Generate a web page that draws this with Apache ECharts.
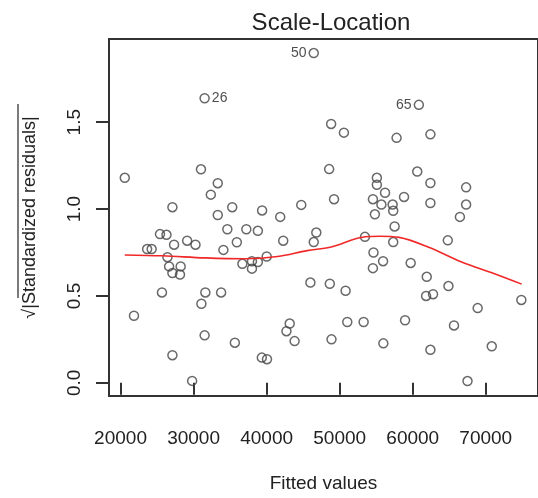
<!DOCTYPE html>
<html>
<head>
<meta charset="utf-8">
<script src="https://cdn.jsdelivr.net/npm/echarts@6/dist/echarts.min.js"></script>
<style>
  html, body { margin: 0; padding: 0; background: #ffffff; }
  #chart { width: 538px; height: 498px; }
</style>
</head>
<body>
<div id="chart"></div>
<script>
// fitted values and sqrt(|standardized residuals|)
const fitted = [
  20580, 21840, 23640, 24260, 25400, 26290, 25670, 26420, 26650, 28230,
  27100, 28140, 27330, 27100, 27100, 29120, 30260, 29800, 31010, 31070,
  31510, 31610, 32360, 33310, 33310, 33770, 34620, 34080, 35290, 35650,
  35920, 37220, 36680, 37990, 38800, 37990, 38800, 39380, 40010, 39340,
  40050, 41860, 42270, 42710, 43160, 43830, 44740, 46800, 46450, 45990,
  48830, 50580, 48560, 49230, 48650, 50810, 48880, 51040, 53280, 53460,
  54550, 55090, 55090, 54820, 54630, 54550, 55940, 55710, 56210, 55980,
  57250, 57330, 57520, 57330, 57790, 58810, 59720, 58950, 60620, 62420,
  62420, 62420, 61920, 61830, 62780, 62420, 64800, 64890, 65650, 66460,
  67310, 67310, 67500, 68890, 70820, 74870
];
const sqrtResid = [
  1.18, 0.386, 0.77, 0.77, 0.856, 0.852, 0.52, 0.723, 0.67, 0.67,
  0.632, 0.623, 0.795, 1.011, 0.159, 0.818, 0.795, 0.011, 1.229, 0.455,
  0.273, 0.52, 1.083, 1.149, 0.966, 0.52, 0.884, 0.765, 1.011, 0.231,
  0.809, 0.884, 0.685, 0.70, 0.695, 0.657, 0.875, 0.992, 0.727, 0.145,
  0.136, 0.955, 0.818, 0.297, 0.341, 0.24, 1.024, 0.865, 0.81, 0.577,
  1.49, 1.44, 1.23, 1.057, 0.57, 0.53, 0.25, 0.35, 0.35, 0.84,
  1.057, 1.18, 1.14, 0.97, 0.75, 0.66, 0.70, 1.026, 1.094, 0.227,
  1.026, 0.99, 0.90, 0.81, 1.41, 1.07, 0.69, 0.36, 1.216, 1.43,
  1.15, 1.035, 0.61, 0.50, 0.51, 0.19, 0.82, 0.557, 0.33, 0.955,
  1.125, 1.026, 0.01, 0.43, 0.21, 0.477
];

// labelled observations
const idFitted = [31510, 46450, 60840];
const idResid = [1.638, 1.898, 1.60];
const idNames = ['26', '50', '65'];
const idSide = ['right', 'left', 'left'];

// smoother (red line)
const smoothX = [20580, 25750, 31610, 37000, 41500, 45550, 48690, 53470, 55440, 58140, 62190, 66690, 71190, 74920];
const smoothY = [0.736, 0.731, 0.719, 0.714, 0.727, 0.761, 0.78, 0.841, 0.844, 0.837, 0.78, 0.695, 0.628, 0.568];

const xTicks = [20000, 30000, 40000, 50000, 60000, 70000];
const yTicks = [0, 0.5, 1.0, 1.5];

const chart = echarts.init(document.getElementById('chart'));

const pointStyle = {
  color: 'rgba(0,0,0,0)',
  borderColor: '#444',
  borderWidth: 1.5
};

const option = {
  animation: false,
  textStyle: { fontFamily: 'Liberation Sans' },
  title: {
    text: 'Scale-Location',
    left: 326,
    top: 6,
    textAlign: 'center',
    textStyle: { fontSize: 24, fontWeight: 'normal', color: '#222' }
  },
  grid: {
    left: 109,
    top: 39,
    right: -6,
    bottom: 97,
    show: true,
    borderColor: '#333',
    borderWidth: 2
  },
  xAxis: {
    type: 'value',
    min: 18420,
    max: 77150,
    name: 'Fitted values',
    nameLocation: 'middle',
    nameGap: 78,
    nameTextStyle: { fontSize: 19, color: '#222' },
    splitLine: { show: false },
    axisLine: { show: false },
    axisTick: {
      show: true,
      length: 12,
      customValues: xTicks,
      lineStyle: { color: '#333', width: 2 }
    },
    axisLabel: {
      customValues: xTicks,
      margin: 33,
      fontSize: 19,
      color: '#222',
      formatter: v => String(v)
    }
  },
  yAxis: {
    type: 'value',
    min: -0.076,
    max: 1.979,
    name: '√|Standardized residuals|',
    nameLocation: 'middle',
    nameGap: 70,
    nameTextStyle: { fontSize: 18, color: '#222' },
    splitLine: { show: false },
    axisLine: { show: false },
    axisTick: {
      show: true,
      length: 13,
      customValues: yTicks,
      lineStyle: { color: '#333', width: 2 }
    },
    axisLabel: {
      customValues: yTicks,
      rotate: 90,
      margin: 25,
      fontSize: 19,
      color: '#222',
      formatter: v => v.toFixed(1)
    }
  },
  graphic: [
    {
      type: 'line',
      shape: { x1: 18, y1: 104, x2: 18, y2: 298 },
      style: { stroke: '#333', lineWidth: 1.3 }
    }
  ],
  series: [
    {
      type: 'scatter',
      symbol: 'circle',
      symbolSize: 9,
      itemStyle: pointStyle,
      data: fitted.map((x, i) => [x, sqrtResid[i]])
    },
    {
      type: 'scatter',
      symbol: 'circle',
      symbolSize: 9,
      itemStyle: pointStyle,
      data: idFitted.map((x, i) => ({
        value: [x, idResid[i]],
        label: {
          show: true,
          position: idSide[i],
          distance: 2,
          formatter: idNames[i],
          fontSize: 14,
          color: '#222'
        }
      }))
    },
    {
      type: 'line',
      smooth: 0.35,
      symbol: 'none',
      lineStyle: { color: '#f02828', width: 1.6 },
      data: smoothX.map((x, i) => [x, smoothY[i]])
    }
  ]
};

chart.setOption(option);
</script>
</body>
</html>
